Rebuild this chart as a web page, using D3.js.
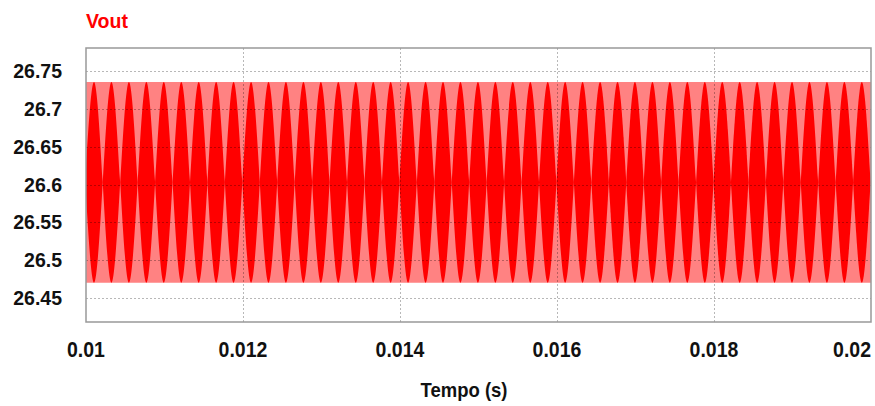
<!DOCTYPE html>
<html>
<head>
<meta charset="utf-8">
<script src="https://cdn.jsdelivr.net/npm/d3@7"></script>
<style>
  html, body { margin: 0; padding: 0; background: #ffffff; }
  svg { display: block; }
  text { font-family: "Liberation Sans", Arial, sans-serif; font-weight: bold; }
</style>
</head>
<body>
<svg id="chart" width="875" height="406"></svg>
<script>
// ---------------- data ----------------
const chartTitle = "Vout";
const xAxisTitle = "Tempo (s)";
const timeDomain = [0.01, 0.02];          // s
const voltDomain = [26.418, 26.781];      // V
const xTicks = [0.01, 0.012, 0.014, 0.016, 0.018, 0.02];
const xTickLabels = ["0.01", "0.012", "0.014", "0.016", "0.018", "0.02"];
const yTicks = [26.45, 26.5, 26.55, 26.6, 26.65, 26.7, 26.75];
const yTickLabels = ["26.45", "26.5", "26.55", "26.6", "26.65", "26.7", "26.75"];

// ripple band (min / max of Vout over the window)
const bandTimes = [0.01, 0.02];
const bandMin = [26.470, 26.470];
const bandMax = [26.736, 26.736];

// centres of the dense (aliased) ripple lobes
const lobeCenters = [
  0.010102, 0.010324, 0.010547, 0.010769, 0.010991, 0.011214, 0.011436, 0.011658,
  0.011880, 0.012103, 0.012325, 0.012547, 0.012770, 0.012992, 0.013214, 0.013437,
  0.013659, 0.013881, 0.014103, 0.014326, 0.014548, 0.014770, 0.014993, 0.015215,
  0.015437, 0.015660, 0.015882, 0.016104, 0.016326, 0.016549, 0.016771, 0.016993,
  0.017216, 0.017438, 0.017660, 0.017883, 0.018105, 0.018327, 0.018549, 0.018772,
  0.018994, 0.019216, 0.019439, 0.019661, 0.019883
];
const lobeHalfWidth = 0.0001112;  // s
const lobeMax = 26.736;
const lobeMin = 26.470;
const lobeMid = 26.603;

// ---------------- layout ----------------
const plot = { left: 86, right: 871, top: 48, bottom: 322 };
const svg = d3.select("#chart");

const x = d3.scaleLinear().domain(timeDomain).range([plot.left, plot.right]);
const y = d3.scaleLinear().domain(voltDomain).range([plot.bottom, plot.top]);

svg.append("defs").append("clipPath").attr("id", "plotClip")
  .append("rect")
  .attr("x", plot.left).attr("y", plot.top)
  .attr("width", plot.right - plot.left).attr("height", plot.bottom - plot.top);

const g = svg.append("g").attr("clip-path", "url(#plotClip)");

// light band
const bandData = bandTimes.map((t, i) => ({ t, lo: bandMin[i], hi: bandMax[i] }));
g.append("path")
  .datum(bandData)
  .attr("fill", "#ff8282")
  .attr("d", d3.area().x(d => x(d.t)).y0(d => y(d.lo)).y1(d => y(d.hi)));

// dark lobes
const lobeArea = d3.area()
  .x(d => x(d.t)).y0(d => y(d.lo)).y1(d => y(d.hi))
  .curve(d3.curveMonotoneX);
g.selectAll("path.lobe")
  .data(lobeCenters)
  .enter().append("path")
  .attr("class", "lobe")
  .attr("fill", "#ff0000")
  .attr("d", c => lobeArea([
    { t: c - lobeHalfWidth, lo: lobeMid, hi: lobeMid },
    { t: c, lo: lobeMin, hi: lobeMax },
    { t: c + lobeHalfWidth, lo: lobeMid, hi: lobeMid }
  ]));

// grid lines (drawn over the trace)
const grid = svg.append("g")
  .attr("stroke", "#000").attr("stroke-opacity", 0.28)
  .attr("stroke-width", 1).attr("stroke-dasharray", "2,2");
grid.selectAll("line.h").data(yTicks).enter().append("line")
  .attr("x1", plot.left).attr("x2", plot.right)
  .attr("y1", d => Math.round(y(d)) + 0.5).attr("y2", d => Math.round(y(d)) + 0.5);
grid.selectAll("line.v").data(xTicks.slice(1, -1)).enter().append("line")
  .attr("y1", plot.top).attr("y2", plot.bottom)
  .attr("x1", d => Math.round(x(d)) + 0.5).attr("x2", d => Math.round(x(d)) + 0.5);

// frame
svg.append("rect")
  .attr("x", plot.left).attr("y", plot.top)
  .attr("width", plot.right - plot.left).attr("height", plot.bottom - plot.top)
  .attr("fill", "none").attr("stroke", "#999").attr("stroke-width", 1.5);

// y tick labels
svg.selectAll("text.ytick").data(yTicks).enter().append("text")
  .attr("class", "ytick")
  .attr("x", 62).attr("y", d => y(d))
  .attr("dy", "0.36em")
  .attr("text-anchor", "end")
  .attr("font-size", 19.5)
  .attr("fill", "#111")
  .text((d, i) => yTickLabels[i]);

// x tick labels
svg.selectAll("text.xtick").data(xTicks).enter().append("text")
  .attr("class", "xtick")
  .attr("text-anchor", (d, i) => i === xTicks.length - 1 ? "end" : "middle")
  .attr("transform", (d, i) => {
    const px = i === xTicks.length - 1 ? plot.right : x(d);
    return `translate(${px},357) scale(1,1.15)`;
  })
  .attr("font-size", 19.5)
  .attr("fill", "#111")
  .text((d, i) => xTickLabels[i]);

// axis title
svg.append("text")
  .attr("transform", "translate(464,397) scale(1,1.12)")
  .attr("text-anchor", "middle")
  .attr("font-size", 18.5)
  .attr("fill", "#111")
  .text(xAxisTitle);

// chart title
svg.append("text")
  .attr("x", 86).attr("y", 28)
  .attr("font-size", 19.5)
  .attr("fill", "#ff0000")
  .text(chartTitle);
</script>
</body>
</html>
